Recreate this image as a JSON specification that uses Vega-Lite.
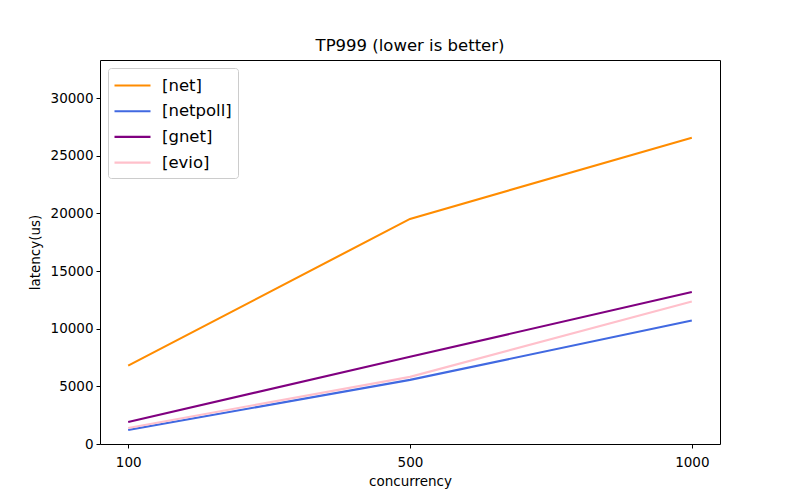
{
  "$schema": "https://vega.github.io/schema/vega-lite/v6.json",
  "width": 620,
  "height": 384,
  "autosize": {"type": "none"},
  "padding": {"left": 100, "top": 60, "right": 80, "bottom": 56},
  "background": "white",
  "title": {"text": "TP999 (lower is better)", "fontSize": 16.5, "font": "DejaVu Sans", "fontWeight": "normal", "color": "black", "offset": 6},
  "config": {
    "view": {"stroke": "black", "strokeWidth": 1},
    "font": "DejaVu Sans",
    "axis": {"grid": false, "domain": false, "tickColor": "black", "tickSize": 4, "labelColor": "black", "labelFontSize": 13.5, "labelPadding": 3, "titleColor": "black", "titleFontSize": 13.5, "titleFontWeight": "normal", "labelFont": "DejaVu Sans", "titleFont": "DejaVu Sans"}
  },
  "data": {"values": [
    {"series": "[net]", "concurrency": 100, "latency": 6800},
    {"series": "[net]", "concurrency": 500, "latency": 19520},
    {"series": "[net]", "concurrency": 1000, "latency": 26550},
    {"series": "[netpoll]", "concurrency": 100, "latency": 1220},
    {"series": "[netpoll]", "concurrency": 500, "latency": 5560},
    {"series": "[netpoll]", "concurrency": 1000, "latency": 10710},
    {"series": "[gnet]", "concurrency": 100, "latency": 1910},
    {"series": "[gnet]", "concurrency": 500, "latency": 7560},
    {"series": "[gnet]", "concurrency": 1000, "latency": 13180},
    {"series": "[evio]", "concurrency": 100, "latency": 1390},
    {"series": "[evio]", "concurrency": 500, "latency": 5820},
    {"series": "[evio]", "concurrency": 1000, "latency": 12360}
  ]},
  "mark": {"type": "line", "strokeWidth": 2.1},
  "encoding": {
    "x": {"field": "concurrency", "type": "ordinal", "scale": {"type": "point", "padding": 0.1}, "axis": {"title": "concurrency", "labelAngle": 0, "labelPadding": 7, "titlePadding": 6}},
    "y": {"field": "latency", "type": "quantitative", "scale": {"domain": [0, 33300], "nice": false, "zero": true}, "axis": {"title": "latency(us)", "format": "d", "values": [0, 5000, 10000, 15000, 20000, 25000, 30000], "titlePadding": 8}},
    "color": {"field": "series", "type": "nominal",
      "scale": {"domain": ["[net]", "[netpoll]", "[gnet]", "[evio]"], "range": ["#FF8C00", "#4169E1", "#800080", "#FFC0CB"]},
      "legend": {"title": null, "orient": "none", "legendX": 8, "legendY": 8, "symbolType": "M-1.8,0H1.8", "symbolSize": 400, "symbolStrokeWidth": 2.1, "symbolOffset": 7, "labelFontSize": 16.5, "labelColor": "black", "labelFont": "DejaVu Sans", "labelOffset": 18, "rowPadding": 5.7, "padding": 6, "strokeColor": "#cccccc", "fillColor": "rgba(255,255,255,0.8)", "cornerRadius": 3}
    }
  }
}
